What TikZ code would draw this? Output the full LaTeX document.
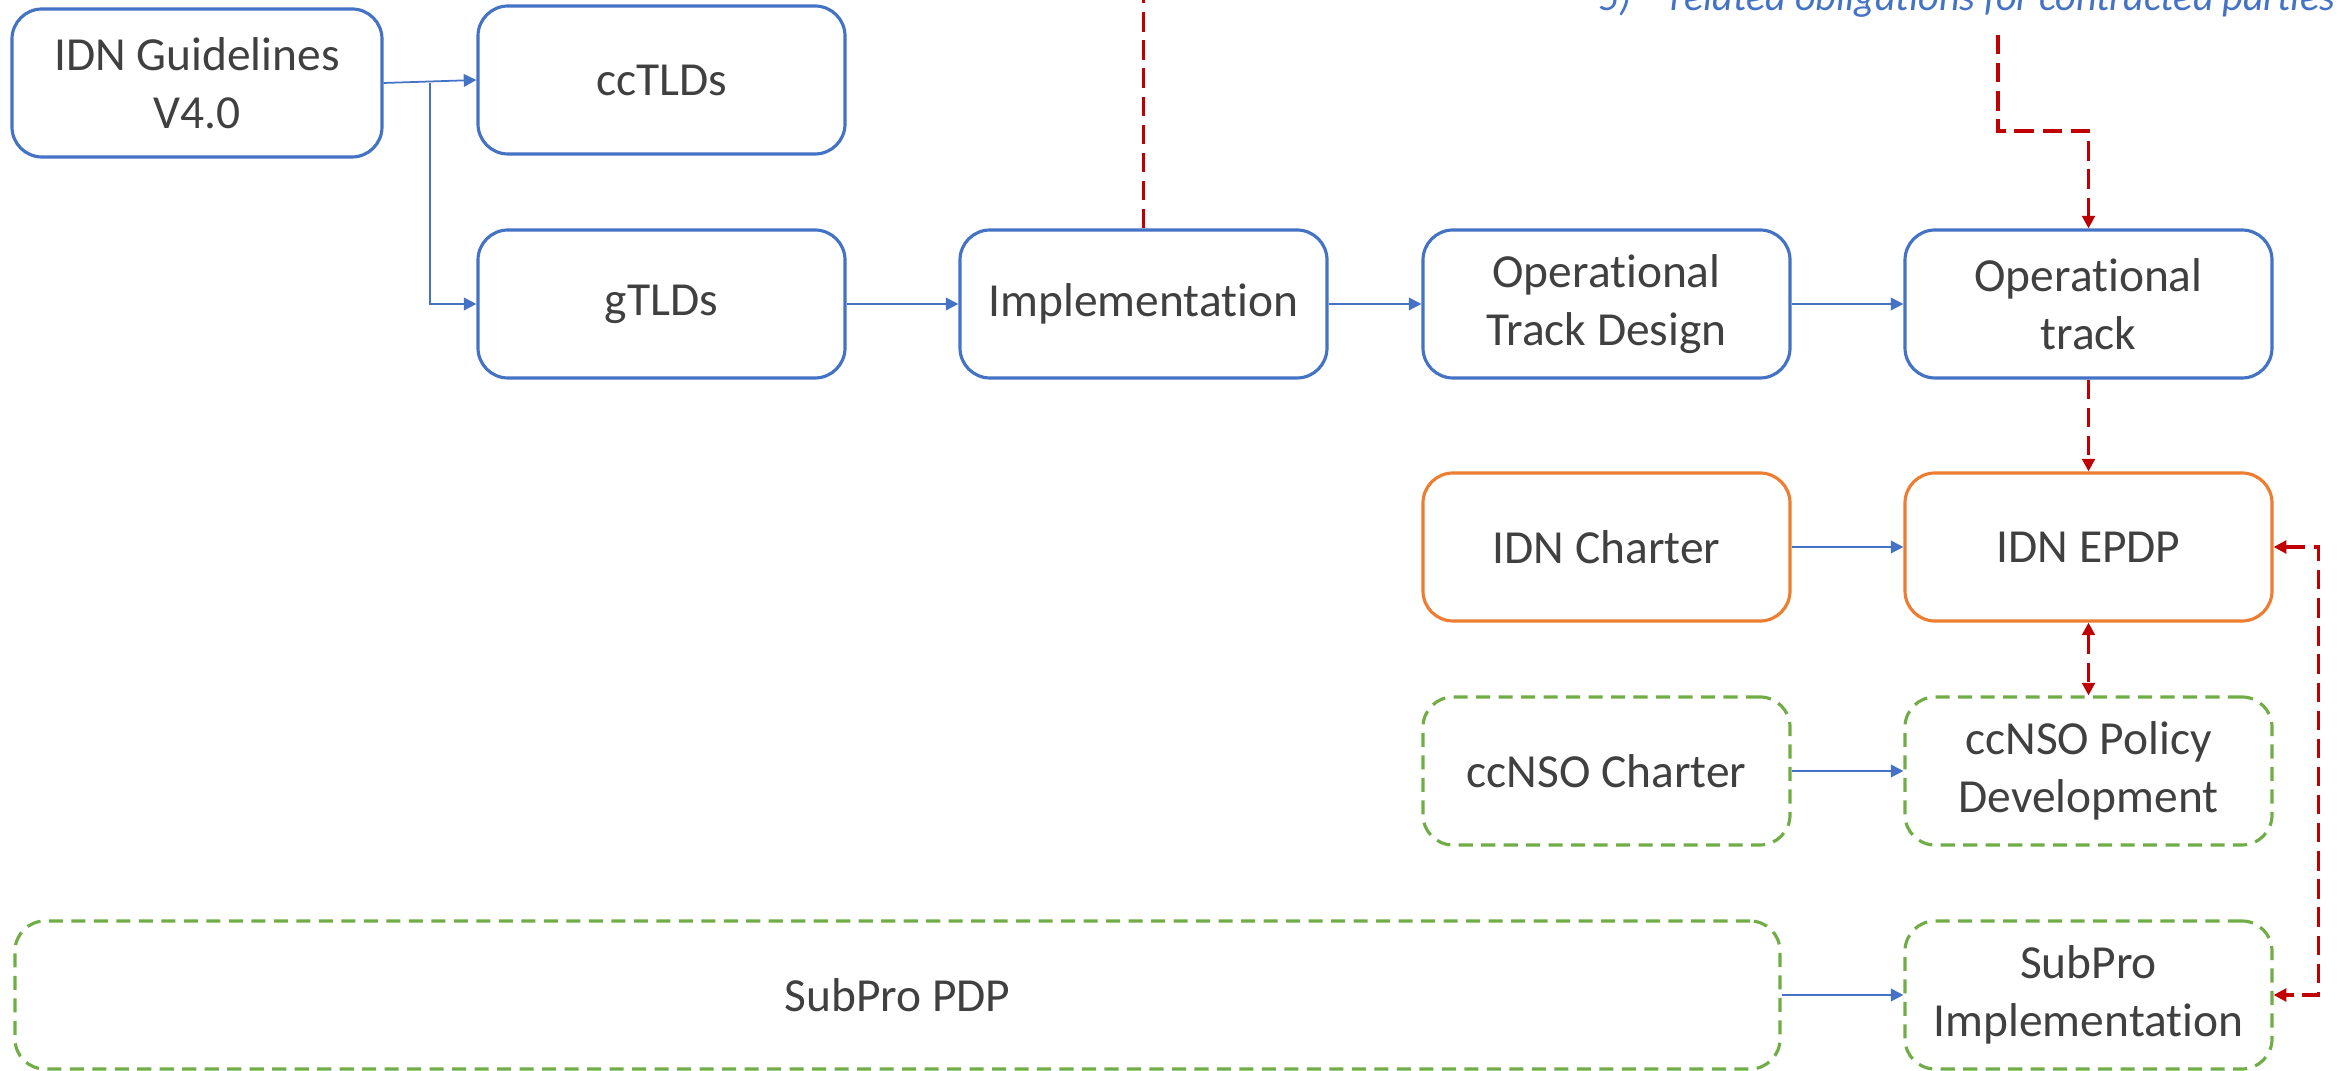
\documentclass[tikz,border=0pt]{standalone}
\usepackage{fontspec}
\setmainfont{Carlito}[Ligatures=NoCommon]
\usetikzlibrary{arrows.meta}
\definecolor{trackblue}{HTML}{4472C4}
\definecolor{epdporange}{HTML}{ED7D31}
\definecolor{ccnsogreen}{HTML}{70AD47}
\definecolor{linkred}{HTML}{C00000}
\definecolor{labelgray}{HTML}{404040}

\begin{document}
\begin{tikzpicture}[
box/.style = {draw, fill=white, rounded corners=0.3cm, minimum width=3.67cm, minimum height=1.48cm,
  align=center, text=labelgray, font=\fontsize{13.5}{16.5}\selectfont, line width=0.9pt},
track box/.style = {box, draw=trackblue},
epdp box/.style = {box, draw=epdporange},
ccnso box/.style = {box, draw=ccnsogreen, dash pattern=on 4pt off 2.4pt},
flow/.style = {->, draw=trackblue, line width=0.5pt},
link/.style = {draw=linkred, line width=0.9pt, dash pattern=on 5.5pt off 2.5pt},
>={Triangle[length=3.6pt,width=3.6pt]},
]
\useasboundingbox (0,0) rectangle (23.41,10.71);

\node (guide) [track box, minimum width=3.70cm] at (1.97,9.88) {IDN Guidelines\\V4.0};
\node (cctld) [track box] at (6.615,9.91) {ccTLDs};
\node (gtld) [track box] at (6.615,7.67) {gTLDs};
\node (impl) [track box] at (11.435,7.67) {Implementation};
\node (otd) [track box] at (16.065,7.67) {Operational\\Track Design};
\node (optrack) [track box] at (20.885,7.67) {Operational\\track};

\node (idnch) [epdp box] at (16.065,5.24) {IDN Charter};
\node (epdp) [epdp box] at (20.885,5.24) {IDN EPDP};

\node (ccnsoch) [ccnso box] at (16.065,3.00) {ccNSO Charter};
\node (ccnsopol) [ccnso box] at (20.885,3.00) {ccNSO Policy\\Development};

\node (subpdp) [ccnso box, minimum width=17.65cm] at (8.975,0.76) {SubPro PDP};
\node (subimpl) [ccnso box] at (20.885,0.76) {SubPro\\Implementation};

\node (oblig) [anchor=base west, inner sep=0pt, text=trackblue, font=\fontsize{11.4}{14}\selectfont\itshape]
  at (15.98,10.60) {\makebox[0.72cm][l]{5)}related obligations for contracted parties};

\coordinate (split) at (4.30,9.88);
\coordinate (implup) at (11.435,10.75);
\coordinate (obligfoot) at (19.98,10.36);
\coordinate (obligbend) at (19.98,9.40);

\draw[flow] (guide.east) -- (cctld.west);
\draw[flow] (split) |- (gtld.west);
\draw[flow] (gtld) -- (impl);
\draw[flow] (impl) -- (otd);
\draw[flow] (otd) -- (optrack);
\draw[flow] (idnch) -- (epdp);
\draw[flow] (ccnsoch) -- (ccnsopol);
\draw[flow] (subpdp) -- (subimpl);

\draw[link] (impl.north) -- (implup);
\draw[link, ->] (obligfoot) -- (obligbend) -| (optrack.north);
\draw[link, ->] (optrack) -- (epdp);
\draw[link, <->] (epdp) -- (ccnsopol);
\draw[link, <->] (epdp.east) -- ++(0.45,0) |- (subimpl.east);

\end{tikzpicture}
\end{document}
